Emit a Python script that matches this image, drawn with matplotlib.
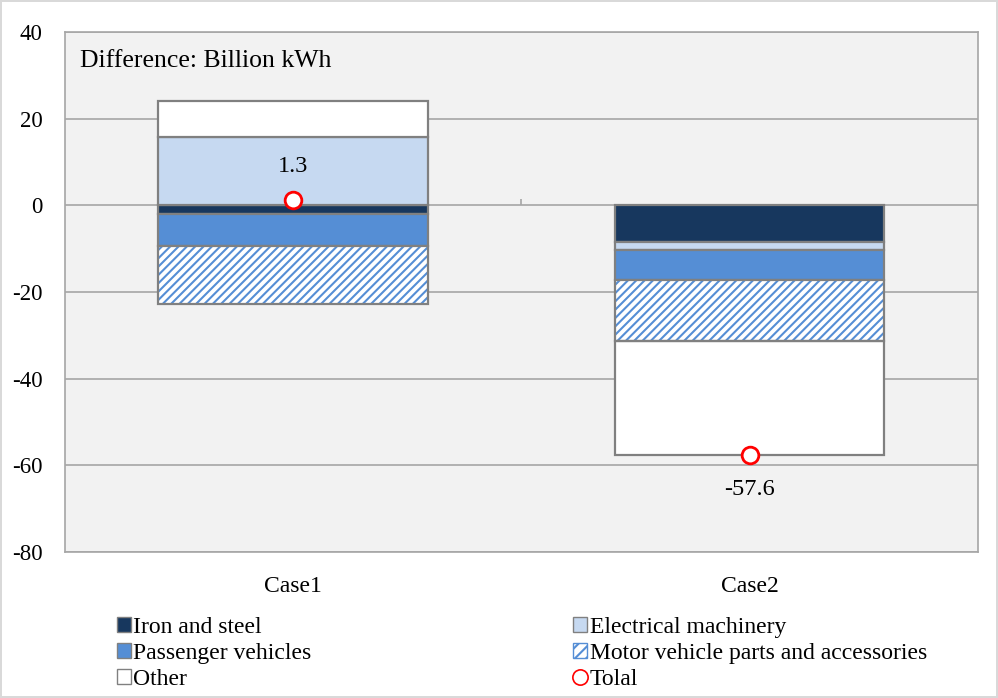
import matplotlib.pyplot as plt
from matplotlib.patches import Patch
from matplotlib.lines import Line2D

plt.rcParams['font.family'] = ['Liberation Serif', 'DejaVu Serif']
plt.rcParams['axes.unicode_minus'] = False
plt.rcParams['hatch.linewidth'] = 1.5

# data (billion kWh)
cases = ['Case1', 'Case2']
iron_steel = [-2.0, -8.4]
electrical = [15.8, -1.9]
passenger = [-7.3, -6.8]
motor_parts = [-13.5, -14.2]
other = [8.3, -26.3]
totals = [1.3, -57.6]

series = [
    ('Iron and steel', iron_steel, '#17375e', None),
    ('Electrical machinery', electrical, '#c6d9f1', None),
    ('Passenger vehicles', passenger, '#558ed5', None),
    ('Motor vehicle parts and accessories', motor_parts, 'white', '////'),
    ('Other', other, 'white', None),
]

edge = '#808080'
fig = plt.figure(figsize=(9.98, 6.98), dpi=100)
fig.patch.set_edgecolor('#d9d9d9')
fig.patch.set_linewidth(1.5)
ax = fig.add_axes([0.065, 0.209, 0.915, 0.745])
ax.set_facecolor('#f2f2f2')

x = list(range(len(cases)))
width = 0.59
pos_base = [0.0] * len(cases)
neg_base = [0.0] * len(cases)
for name, vals, color, hatch in series:
    bottoms = []
    for i, v in enumerate(vals):
        if v >= 0:
            bottoms.append(pos_base[i])
            pos_base[i] += v
        else:
            bottoms.append(neg_base[i])
            neg_base[i] += v
    if hatch:
        # hatch drawn in blue, outline added separately in gray
        ax.bar(x, vals, width, bottom=bottoms, facecolor='white',
               edgecolor='#558ed5', hatch=hatch, linewidth=0, zorder=3)
        ax.bar(x, vals, width, bottom=bottoms, fill=False,
               edgecolor=edge, linewidth=1.6, zorder=4)
    else:
        ax.bar(x, vals, width, bottom=bottoms, color=color,
               edgecolor=edge, linewidth=1.6, zorder=3)

ax.plot(x, totals, 'o', markersize=12, markerfacecolor='white',
        markeredgecolor='red', markeredgewidth=2, zorder=5)
for xi, t in zip(x, totals):
    off = 24 if t > 0 else -25
    ax.annotate(f'{t}', (xi, t), xytext=(0, off), textcoords='offset points',
                ha='center', va='center', fontsize=17.5)

ax.set_ylim(-80, 40)
ax.set_xlim(-0.5, 1.5)
ax.set_yticks(range(-80, 41, 20))
ax.yaxis.grid(True, color='#a6a6a6', linewidth=1.2, zorder=0)
ax.set_axisbelow(True)
ax.set_xticks(x)
ax.set_xticklabels(cases)
ax.tick_params(axis='x', length=0, pad=17, labelsize=17)
ax.tick_params(axis='y', length=0, pad=16, labelsize=16.5)
for s in ax.spines.values():
    s.set_color('#a6a6a6')
    s.set_linewidth(1.2)
ax.vlines(0.5, 0, 1.6, color='#a6a6a6', linewidth=1.2, zorder=1)

ax.text(0.017, 0.965, 'Difference: Billion kWh', transform=ax.transAxes,
        ha='left', va='top', fontsize=18.5)

handles = [
    Patch(facecolor='#17375e', edgecolor=edge, label='Iron and steel'),
    Patch(facecolor='#558ed5', edgecolor=edge, label='Passenger vehicles'),
    Patch(facecolor='white', edgecolor=edge, label='Other'),
    Patch(facecolor='#c6d9f1', edgecolor=edge, label='Electrical machinery'),
    Patch(facecolor='white', edgecolor='#558ed5', hatch='///',
          label='Motor vehicle parts and accessories'),
    Line2D([], [], marker='o', linestyle='none', markersize=11,
           markerfacecolor='white', markeredgecolor='red',
           markeredgewidth=1.2, label='Tolal'),
]
fig.legend(handles=handles, ncol=2, loc='lower left',
           bbox_to_anchor=(0.103, -0.009, 0.84, 0.15), mode='expand',
           frameon=False, fontsize=17, handlelength=0.6, handleheight=0.6,
           handletextpad=0.1, labelspacing=0.22, borderaxespad=0.2)

fig.savefig('out.png', dpi=100)
